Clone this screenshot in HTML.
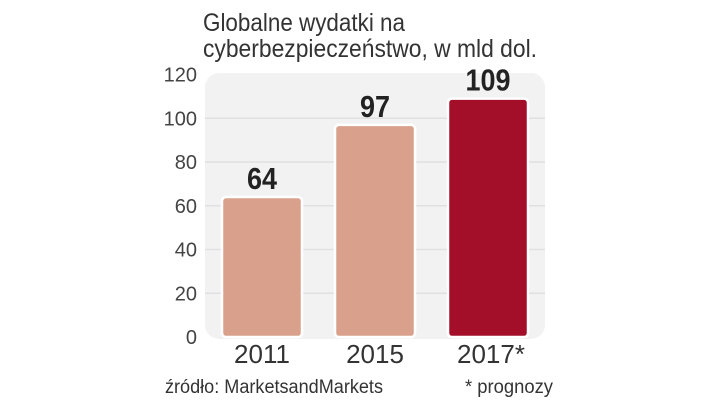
<!DOCTYPE html>
<html><head><meta charset="utf-8"><style>
html,body{margin:0;padding:0;background:#fff;width:720px;height:406px;overflow:hidden}
svg{display:block}
text{font-family:"Liberation Sans Narrow","Liberation Sans",sans-serif}
</style></head><body>
<svg id="chart" width="720" height="406">
<text x="203" y="31" font-size="25" fill="#333" textLength="202" lengthAdjust="spacingAndGlyphs">Globalne wydatki na</text>
<text x="203" y="57" font-size="25" fill="#333" textLength="334" lengthAdjust="spacingAndGlyphs">cyberbezpieczeństwo, w mld dol.</text>
<rect x="205" y="73" width="340" height="266" rx="14" fill="#f2f2f3"/>
<g id="grid"></g><g id="yticks"></g><g id="bars"></g><g id="vals"></g><g id="xlabels"></g>
<text x="165" y="393" font-size="19" fill="#333" textLength="218" lengthAdjust="spacingAndGlyphs">źródło: MarketsandMarkets</text>
<text x="465" y="393" font-size="19" fill="#333" textLength="88" lengthAdjust="spacingAndGlyphs">* prognozy</text>
</svg>
<script>
const categories = ["2011", "2015", "2017*"];
const values = [64, 97, 109];
const valueLabels = ["64", "97", "109"];
const yTicks = [0, 20, 40, 60, 80, 100, 120];
const barColors = ["#d9a18c", "#d9a18c", "#a30f28"];

const NS = "http://www.w3.org/2000/svg";
const y0 = 337, pxPerUnit = 2.1875;
function yScale(v){ return y0 - v * pxPerUnit; }
function xCenter(i){ return 262 + i * 113; }
const barW = 80;
function mk(tag, attrs, parent){
  const el = document.createElementNS(NS, tag);
  for (const k in attrs) el.setAttribute(k, attrs[k]);
  document.getElementById(parent).appendChild(el);
  return el;
}
yTicks.forEach(t => {
  if (t > 0 && t < 120) {
    const l = mk("line", {x1:205, x2:545, y1:yScale(t), y2:yScale(t), stroke:"#e0e0e2", "stroke-width":1.5}, "grid");
    
    
  }
  const tx = mk("text", {x:197, y:yScale(t)+7, "font-size":20, fill:"#444", "text-anchor":"end"}, "yticks");
  tx.textContent = t;
  
  
});
values.forEach((v, i) => {
  const cx = xCenter(i);
  const r = mk("rect", {x:cx-barW/2, y:yScale(v), width:barW, height:y0-yScale(v), rx:4, fill:barColors[i], stroke:"#fff", "stroke-width":2.5}, "bars");
  
  
  const vt = mk("text", {x:cx, y:yScale(v)-8, "font-size":31, "font-weight":"bold", fill:"#222", "text-anchor":"middle", textLength:valueLabels[i].length*15, lengthAdjust:"spacingAndGlyphs"}, "vals");
  vt.textContent = valueLabels[i];
  
  
  const xt = mk("text", {x:cx + (categories[i].length>4?3:0), y:363, "font-size":26, fill:"#333", "text-anchor":"middle"}, "xlabels");
  xt.textContent = categories[i];
  
  
});
</script>
</body></html>
